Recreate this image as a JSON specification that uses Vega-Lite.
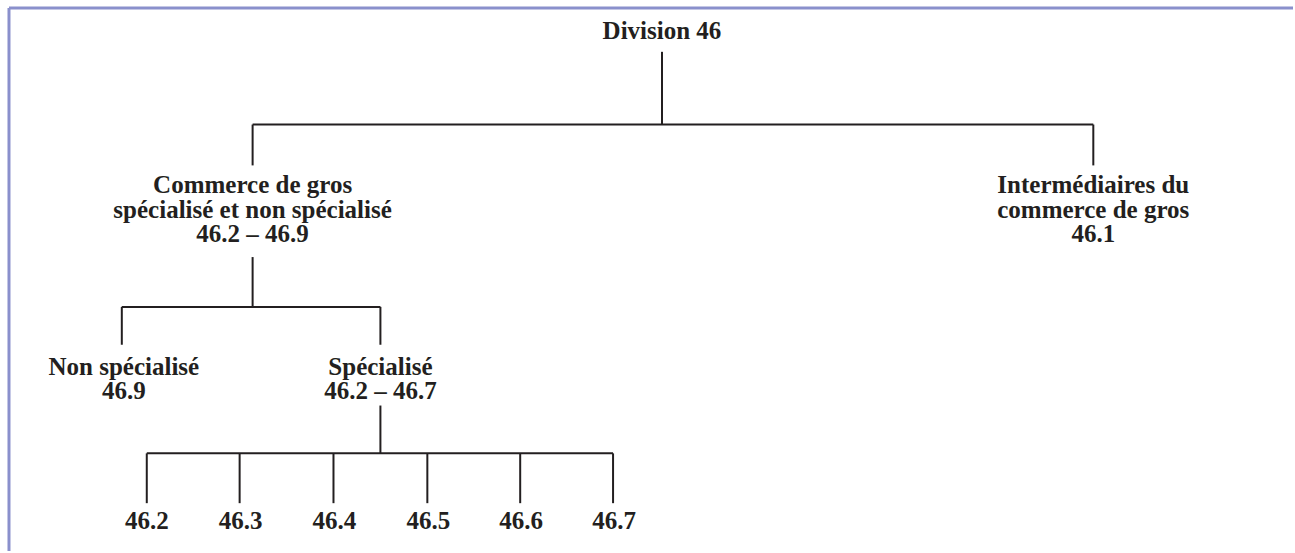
{
  "$schema": "https://vega.github.io/schema/vega-lite/v6.json",
  "width": 1295,
  "height": 553,
  "padding": 0,
  "autosize": {"type": "fit", "contains": "padding"},
  "background": "white",
  "config": {"view": {"stroke": null}},
  "datasets": {
    "segs": [
      {"x": 663, "y": 52, "x2": 663, "y2": 125},
      {"x": 253, "y": 125, "x2": 1095, "y2": 125},
      {"x": 253, "y": 125, "x2": 253, "y2": 166},
      {"x": 1095, "y": 125, "x2": 1095, "y2": 166},
      {"x": 253, "y": 258, "x2": 253, "y2": 308},
      {"x": 122, "y": 308, "x2": 381, "y2": 308},
      {"x": 122, "y": 308, "x2": 122, "y2": 346},
      {"x": 381, "y": 308, "x2": 381, "y2": 346},
      {"x": 381, "y": 407, "x2": 381, "y2": 455},
      {"x": 147, "y": 455, "x2": 614, "y2": 455},
      {"x": 147, "y": 455, "x2": 147, "y2": 505},
      {"x": 240, "y": 455, "x2": 240, "y2": 505},
      {"x": 334, "y": 455, "x2": 334, "y2": 505},
      {"x": 428, "y": 455, "x2": 428, "y2": 505},
      {"x": 521, "y": 455, "x2": 521, "y2": 505},
      {"x": 614, "y": 455, "x2": 614, "y2": 505}
    ],
    "frame": [
      {"x": 9, "y": 8, "x2": 1295, "y2": 8},
      {"x": 9, "y": 8, "x2": 9, "y2": 553}
    ],
    "labels": [
      {"x": 663, "y": 31, "label": "Division 46"},
      {"x": 253, "y": 186, "label": "Commerce de gros\nspécialisé et non spécialisé\n46.2 – 46.9"},
      {"x": 1095, "y": 186, "label": "Intermédiaires du\ncommerce de gros\n46.1"},
      {"x": 124, "y": 368, "label": "Non spécialisé\n46.9"},
      {"x": 381, "y": 368, "label": "Spécialisé\n46.2 – 46.7"},
      {"x": 147, "y": 523, "label": "46.2"},
      {"x": 241, "y": 523, "label": "46.3"},
      {"x": 335, "y": 523, "label": "46.4"},
      {"x": 429, "y": 523, "label": "46.5"},
      {"x": 522, "y": 523, "label": "46.6"},
      {"x": 615, "y": 523, "label": "46.7"}
    ]
  },
  "layer": [
    {
      "data": {"name": "frame"},
      "mark": {"type": "rule", "color": "#8a90cc", "strokeWidth": 3},
      "encoding": {
        "x": {"field": "x", "type": "quantitative", "scale": {"domain": [0, 1295], "nice": false, "zero": false}, "axis": null},
        "y": {"field": "y", "type": "quantitative", "scale": {"domain": [0, 553], "nice": false, "zero": false, "reverse": true}, "axis": null},
        "x2": {"field": "x2"},
        "y2": {"field": "y2"}
      }
    },
    {
      "data": {"name": "segs"},
      "mark": {"type": "rule", "color": "#231f20", "strokeWidth": 2},
      "encoding": {
        "x": {"field": "x", "type": "quantitative"},
        "y": {"field": "y", "type": "quantitative"},
        "x2": {"field": "x2"},
        "y2": {"field": "y2"}
      }
    },
    {
      "data": {"name": "labels"},
      "mark": {"type": "text", "font": "Liberation Serif", "fontWeight": "bold", "fontSize": 25, "lineHeight": 24.5, "lineBreak": "\n", "color": "#231f20", "align": "center", "baseline": "middle"},
      "encoding": {
        "x": {"field": "x", "type": "quantitative"},
        "y": {"field": "y", "type": "quantitative"},
        "text": {"field": "label"}
      }
    }
  ]
}
